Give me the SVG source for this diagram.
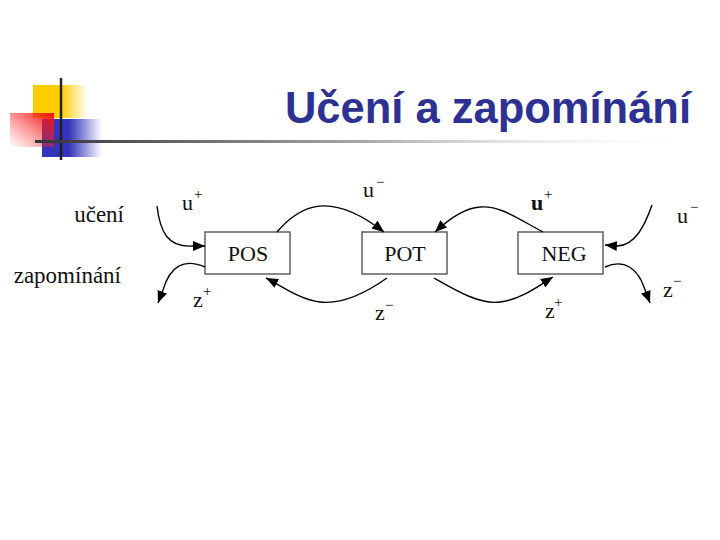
<svg xmlns="http://www.w3.org/2000/svg" width="720" height="540" viewBox="0 0 720 540">
<defs>
<linearGradient id="gy" x1="0" y1="0" x2="1" y2="0"><stop offset="0" stop-color="#FFCC00"/><stop offset="0.5" stop-color="#FFCC00"/><stop offset="1" stop-color="#FFCC00" stop-opacity="0"/></linearGradient>
<linearGradient id="gb" x1="0" y1="0" x2="1" y2="0"><stop offset="0" stop-color="#3333BB"/><stop offset="0.45" stop-color="#3333BB"/><stop offset="1" stop-color="#3333BB" stop-opacity="0"/></linearGradient>
<linearGradient id="gr" x1="1" y1="0" x2="0" y2="1"><stop offset="0" stop-color="#EE1111"/><stop offset="1" stop-color="#FF3333" stop-opacity="0"/></linearGradient>
<linearGradient id="gl" x1="0" y1="0" x2="1" y2="0"><stop offset="0" stop-color="#333333"/><stop offset="0.5" stop-color="#aaaaaa"/><stop offset="1" stop-color="#ffffff" stop-opacity="0"/></linearGradient>
<marker id="ah" viewBox="0 0 12 10" refX="12" refY="5" markerWidth="12" markerHeight="10" markerUnits="userSpaceOnUse" orient="auto"><path d="M0,0 L12,5 L0,10 Z" fill="#000"/></marker>
</defs>
<style>
.box{fill:#fff;stroke:#555;stroke-width:1.4}
.lbl{font-family:"Liberation Serif",serif;font-size:22px;fill:#111}
.t{font-family:"Liberation Serif",serif;font-size:23px;fill:#111}
.v{font-family:"Liberation Serif",serif;font-size:22px;fill:#111}
.sup{font-family:"Liberation Serif",serif;font-size:15px;fill:#111}
.c{fill:none;stroke:#000;stroke-width:1.4;marker-end:url(#ah)}
</style>
<g id="logo">
<rect x="33" y="85" width="55" height="33" fill="url(#gy)"/>
<rect x="42" y="119" width="60" height="38" fill="url(#gb)"/>
<rect x="10" y="113" width="44" height="34" fill="url(#gr)"/>
<line x1="61" y1="78" x2="61" y2="160" stroke="#222" stroke-width="2.5"/>
<rect x="35" y="140" width="665" height="3" fill="url(#gl)"/>
</g>
<text id="title" x="691" y="123" text-anchor="end" font-family="'Liberation Sans',Arial,sans-serif" font-weight="bold" font-size="43.5" fill="#2E3192">Učení a zapomínání</text>
<g id="side-labels">
<text class="t" x="124" y="222" text-anchor="end">učení</text>
<text class="t" x="121" y="283" text-anchor="end">zapomínání</text>
</g>
<g id="POS"><rect class="box" x="205" y="232" width="85" height="42"/><text class="lbl" x="248" y="261" text-anchor="middle">POS</text></g>
<g id="POT"><rect class="box" x="362" y="232" width="85" height="42"/><text class="lbl" x="405" y="261" text-anchor="middle">POT</text></g>
<g id="NEG"><rect class="box" x="518" y="232" width="85" height="42"/><text class="lbl" x="564" y="261" text-anchor="middle">NEG</text></g>
<g id="connectors">
<path class="c" d="M157,206 C160,232 168,248 193,246 L205,246"/>
<path class="c" d="M205,267 C184,258 170,266 163,290 L158,303"/>
<path class="c" d="M277,232 C300,205 330,190 384,232"/>
<path class="c" d="M387,278 C370,290 345,305 320,302 C300,300 280,285 266,278"/>
<path class="c" d="M543,232 C520,220 500,205 480,207 C465,208 450,218 435,232"/>
<path class="c" d="M434,278 C455,290 480,305 500,302 C520,300 540,285 553,277"/>
<path class="c" d="M652,205 C645,225 635,246 617,246 L605,245"/>
<path class="c" d="M605,267 C625,258 638,270 644,287 L650,303"/>
</g>
<g id="conn-labels">
<text class="v" x="182" y="210">u</text><text class="sup" x="194" y="199">+</text>
<text class="v" x="193" y="307">z</text><text class="sup" x="203" y="296">+</text>
<text class="v" x="363" y="197">u</text><text class="sup" x="376" y="187">−</text>
<text class="v" x="375" y="320">z</text><text class="sup" x="385" y="310">−</text>
<text class="v" x="531" y="210" font-weight="bold">u</text><text class="sup" x="544" y="199">+</text>
<text class="v" x="545" y="318">z</text><text class="sup" x="554" y="307">+</text>
<text class="v" x="677" y="223">u</text><text class="sup" x="690" y="212">−</text>
<text class="v" x="663" y="297">z</text><text class="sup" x="673" y="286">−</text>
</g>
</svg>
